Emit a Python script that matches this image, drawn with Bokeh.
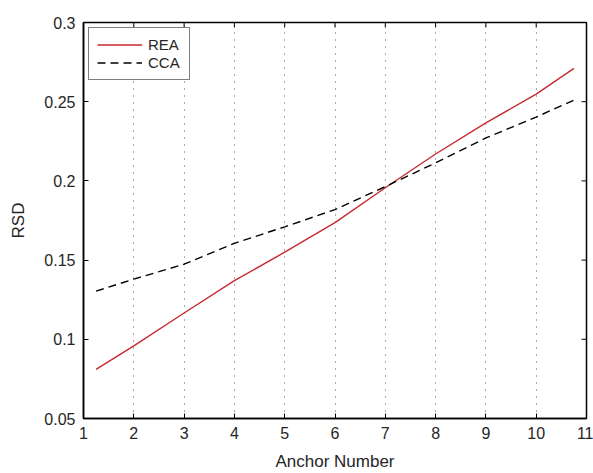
import math
from bokeh.plotting import figure
from bokeh.models import FixedTicker, Range1d, Legend, LegendItem
from bokeh.embed import file_html
from bokeh.resources import INLINE

# Data
anchor = [1.25, 2, 3, 4, 5, 6, 7, 8, 9, 10, 10.75]
rea = [0.081, 0.0959, 0.1166, 0.137, 0.155, 0.1737, 0.1957, 0.217, 0.2366, 0.2548, 0.271]
cca = [0.1304, 0.138, 0.1474, 0.1606, 0.171, 0.1819, 0.1964, 0.2114, 0.2271, 0.2403, 0.251]

x_ticks = [1, 2, 3, 4, 5, 6, 7, 8, 9, 10, 11]
y_ticks = [0.05, 0.1, 0.15, 0.2, 0.25, 0.3]
y_tick_labels = ["0.05", "0.1", "0.15", "0.2", "0.25", "0.3"]

FONT = "Liberation Sans"
TXT = "#262626"

p = figure(width=593, height=473, output_backend="svg", toolbar_location=None,
           x_range=Range1d(x_ticks[0], x_ticks[-1]), y_range=Range1d(y_ticks[0], y_ticks[-1]),
           min_border_left=83, min_border_right=7, min_border_top=22, min_border_bottom=54)
p.outline_line_color = "black"
p.outline_line_width = 1.5

r1 = p.line(anchor, rea, line_color="#c8282e", line_width=1.4)
r2 = p.line(anchor, cca, line_color="black", line_width=1.4, line_dash="8 5")

# inward ticks on the top and right edges of the box (clipped to the frame)
p.scatter(x=x_ticks, y=[y_ticks[-1]] * len(x_ticks), marker="dash", angle=math.pi / 2,
          size=10, line_color="black", line_width=1)
p.scatter(x=[x_ticks[-1]] * len(y_ticks), y=y_ticks, marker="dash",
          size=10, line_color="black", line_width=1)

def style_axis(ax):
    ax.axis_line_color = "black"
    ax.axis_line_width = 1.5
    ax.major_tick_in = 5
    ax.major_tick_out = 0
    ax.minor_tick_line_color = None
    ax.major_tick_line_color = "black"
    ax.major_tick_line_width = 1
    ax.major_label_text_font = FONT
    ax.major_label_text_font_size = "16px"
    ax.major_label_text_color = TXT
    ax.axis_label_text_font = FONT
    ax.axis_label_text_font_size = "17px"
    ax.axis_label_text_font_style = "normal"
    ax.axis_label_text_color = TXT

xa = p.xaxis[0]
xa.ticker = FixedTicker(ticks=x_ticks)
xa.axis_label = "Anchor Number"
style_axis(xa)
xa.major_label_standoff = 8
xa.axis_label_standoff = 10

ya = p.yaxis[0]
ya.ticker = FixedTicker(ticks=y_ticks)
ya.major_label_overrides = {t: l for t, l in zip(y_ticks, y_tick_labels)}
ya.axis_label = "RSD"
style_axis(ya)
ya.major_label_standoff = 8
ya.axis_label_standoff = 13

p.xgrid.ticker = FixedTicker(ticks=x_ticks)
p.xgrid.grid_line_color = "#555555"
p.xgrid.grid_line_dash = "1 6"
p.xgrid.grid_line_width = 1
p.ygrid.grid_line_color = None

legend = Legend(items=[LegendItem(label="REA", renderers=[r1]),
                       LegendItem(label="CCA", renderers=[r2])],
                location="top_left")
legend.margin = 5
legend.padding = 8
legend.spacing = 1
legend.glyph_width = 45
legend.glyph_height = 13
legend.label_height = 13
legend.label_width = 33
legend.label_standoff = 6
legend.label_text_font = FONT
legend.label_text_font_size = "15px"
legend.label_text_color = TXT
legend.border_line_color = "black"
legend.border_line_width = 1.5
p.add_layout(legend)

open("out.html", "w").write(file_html(p, INLINE))
